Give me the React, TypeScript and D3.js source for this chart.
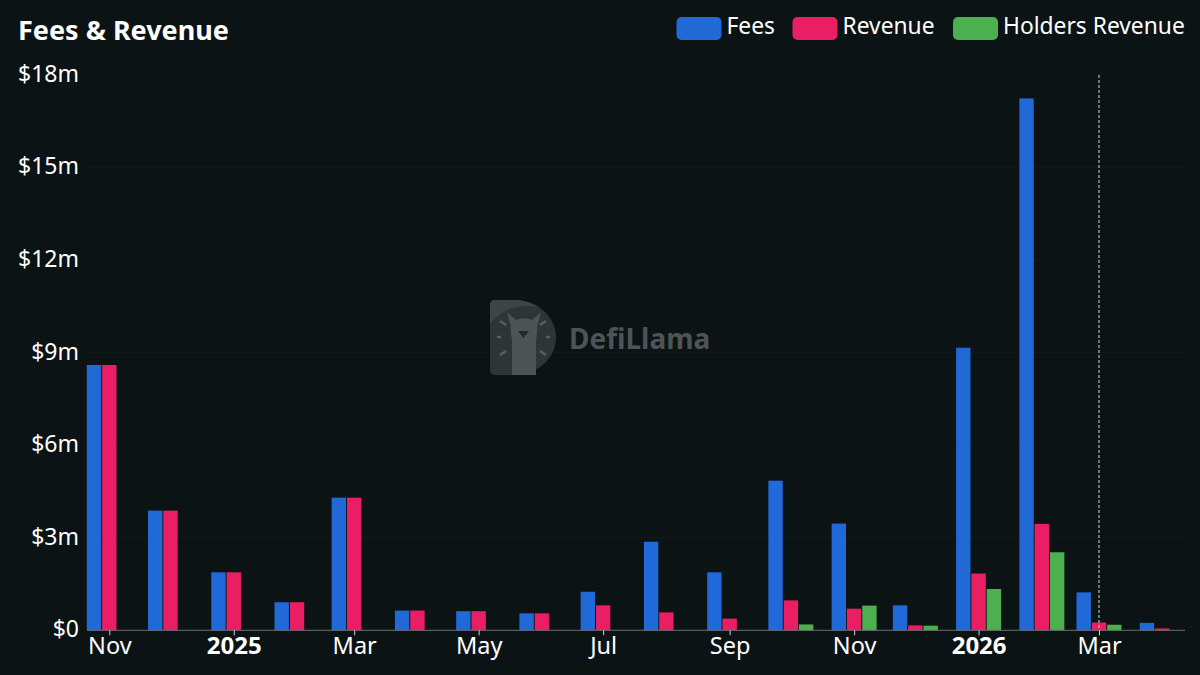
import React, { useEffect, useRef } from 'react';
import * as d3 from 'd3';

// Monthly totals, in $m
const months = [
  '2024-11-01', '2024-12-01', '2025-01-01', '2025-02-01', '2025-03-01', '2025-04-01',
  '2025-05-01', '2025-06-01', '2025-07-01', '2025-08-01', '2025-09-01', '2025-10-01',
  '2025-11-01', '2025-12-01', '2026-01-01', '2026-02-01', '2026-03-01', '2026-04-01',
];
const fees = [8.6, 3.88, 1.88, 0.91, 4.3, 0.64, 0.62, 0.55, 1.25, 2.87, 1.88, 4.85, 3.46, 0.81, 9.16, 17.24, 1.23, 0.24];
const revenue = [8.6, 3.88, 1.88, 0.91, 4.3, 0.64, 0.62, 0.55, 0.81, 0.58, 0.38, 0.97, 0.7, 0.16, 1.84, 3.45, 0.25, 0.06];
const holdersRevenue = [0, 0, 0, 0, 0, 0, 0, 0, 0, 0, 0, 0.19, 0.8, 0.15, 1.34, 2.53, 0.18, 0];

const seriesNames = ['Fees', 'Revenue', 'Holders Revenue'];
const seriesColors = ['#2069d6', '#e91e63', '#4caf50'];

const yTicks = [0, 3, 6, 9, 12, 15, 18];
const xTicks = ['2024-11-01', '2025-01-01', '2025-03-01', '2025-05-01', '2025-07-01', '2025-09-01', '2025-11-01', '2026-01-01', '2026-03-01'];
const cursorDate = '2026-03-01';

const FONT = '"Noto Sans", "Open Sans", sans-serif';

const App: React.FC = () => {
  const svgRef = useRef<SVGSVGElement | null>(null);

  useEffect(() => {
    if (!svgRef.current) return;

    const width = 1200;
    const height = 675;
    const plotLeft = 87;
    const plotRight = 1185;
    const plotTop = 75;
    const plotBottom = 630.3;

    const svg = d3.select(svgRef.current)
      .attr('width', width)
      .attr('height', height)
      .attr('viewBox', `0 0 ${width} ${height}`)
      .style('font-family', FONT);

    svg.selectAll('*').remove();

    svg.append('rect')
      .attr('width', width)
      .attr('height', height)
      .attr('fill', '#0b1315');

    // the time scale is pinned on the Nov 2024 and Mar 2026 ticks
    const x = d3.scaleUtc()
      .domain([new Date('2024-11-01'), new Date('2026-03-01')])
      .range([109.3, 1099]);

    const y = d3.scaleLinear()
      .domain([0, 18])
      .range([plotBottom, plotTop]);

    const slot = d3.scaleBand<string>()
      .domain(seriesNames)
      .range([-22.5, 22.5])
      .paddingInner(0.06);

    // grid
    svg.append('g')
      .selectAll('line')
      .data(yTicks.slice(1))
      .join('line')
      .attr('x1', plotLeft)
      .attr('x2', plotRight)
      .attr('y1', d => y(d))
      .attr('y2', d => y(d))
      .attr('stroke', '#ffffff')
      .attr('stroke-opacity', 0.03);

    // watermark
    const logo = svg.append('g').attr('transform', 'translate(490,300)');
    logo.append('path')
      .attr('d', 'M5 0H24C48 0 66 17 66 37.5C66 58 48 75 24 75H5C2 75 0 73 0 70V5C0 2 2 0 5 0Z')
      .attr('fill', '#2f3537');
    logo.append('path')
      .attr('d', 'M0 5C0 2 2 0 5 0H24C34 0 43 3 50 8C36 3 14 6 0 24Z')
      .attr('fill', '#3f4547');
    logo.append('path')
      .attr('d', 'M17 12L26 20C30 18 38 18 42 20L51 12L47 27C48 32 46 38 46 42V75H22V42C22 38 20 32 21 27Z')
      .attr('fill', '#4e5456');
    logo.append('path')
      .attr('d', 'M28 31H39L33.5 38Z')
      .attr('fill', '#23292b');
    logo.selectAll('line')
      .data([[10, 21, 16, 25], [7, 37, 11, 37], [10, 55, 16, 51], [56, 21, 50, 25], [60, 37, 56, 37], [56, 55, 50, 51]])
      .join('line')
      .attr('x1', d => d[0])
      .attr('y1', d => d[1])
      .attr('x2', d => d[2])
      .attr('y2', d => d[3])
      .attr('stroke', '#5a6062')
      .attr('stroke-width', 2.5);
    svg.append('text')
      .attr('x', 569)
      .attr('y', 349)
      .attr('fill', '#4e5456')
      .attr('font-size', 28)
      .attr('font-weight', 700)
      .text('DefiLlama');

    // bars
    const seriesValues = [fees, revenue, holdersRevenue];
    seriesNames.forEach((name, i) => {
      svg.append('g')
        .selectAll('rect')
        .data(seriesValues[i].map((value, j) => ({ date: new Date(months[j]), value })))
        .join('rect')
        .attr('x', d => x(d.date) + (slot(name) as number))
        .attr('y', d => y(d.value))
        .attr('width', slot.bandwidth())
        .attr('height', d => plotBottom - y(d.value))
        .attr('fill', seriesColors[i]);
    });

    // axes
    svg.append('g')
      .attr('transform', `translate(0,${plotBottom})`)
      .call(d3.axisBottom(x)
        .tickValues(xTicks.map(d => new Date(d)))
        .tickSize(5)
        .tickSizeOuter(0)
        .tickFormat(d => {
          const date = d as Date;
          return date.getUTCMonth() === 0 ? d3.utcFormat('%Y')(date) : d3.utcFormat('%b')(date);
        }))
      .call(g => g.select('.domain')
        .attr('d', `M${plotLeft},0H${plotRight}`)
        .attr('stroke', '#6e7079'))
      .call(g => g.selectAll('.tick line').attr('stroke', '#d0d0d0'))
      .call(g => g.selectAll<SVGTextElement, Date>('.tick text')
        .attr('y', 7)
        .attr('fill', '#ffffff')
        .attr('font-size', d => (d.getUTCMonth() === 0 ? 24 : 23.5))
        .attr('font-family', FONT)
        .attr('font-weight', d => (d.getUTCMonth() === 0 ? 700 : 400)));

    svg.append('g')
      .attr('transform', `translate(${plotLeft},0)`)
      .call(d3.axisLeft(y)
        .tickValues(yTicks)
        .tickSize(0)
        .tickPadding(8)
        .tickFormat(d => `$${d}${d === 0 ? '' : 'm'}`))
      .call(g => g.select('.domain').remove())
      .call(g => g.selectAll('.tick text')
        .attr('y', -1)
        .attr('fill', '#ffffff')
        .attr('font-size', 23)
        .attr('font-family', FONT));

    // cursor line
    svg.append('line')
      .attr('x1', x(new Date(cursorDate)))
      .attr('x2', x(new Date(cursorDate)))
      .attr('y1', plotTop)
      .attr('y2', plotBottom)
      .attr('stroke', '#d8d8d8')
      .attr('stroke-width', 1)
      .attr('stroke-dasharray', '3 2');

    // title
    svg.append('text')
      .attr('x', 18)
      .attr('y', 40)
      .attr('fill', '#ffffff')
      .attr('font-size', 27)
      .attr('font-weight', 700)
      .text('Fees & Revenue');

    // legend
    const swatchX = [676.5, 792.5, 953];
    const legend = svg.append('g')
      .selectAll('g')
      .data(seriesNames)
      .join('g')
      .attr('transform', (_, i) => `translate(${swatchX[i]},17)`);
    legend.append('rect')
      .attr('width', 45)
      .attr('height', 23)
      .attr('rx', 5)
      .attr('fill', (_, i) => seriesColors[i]);
    legend.append('text')
      .attr('x', 50)
      .attr('y', 17)
      .attr('fill', '#ffffff')
      .attr('font-size', 22.8)
      .text(d => d);
  }, []);

  return <svg ref={svgRef} style={{ position: 'absolute', left: 0, top: 0, display: 'block' }}></svg>;
};

export default App;
